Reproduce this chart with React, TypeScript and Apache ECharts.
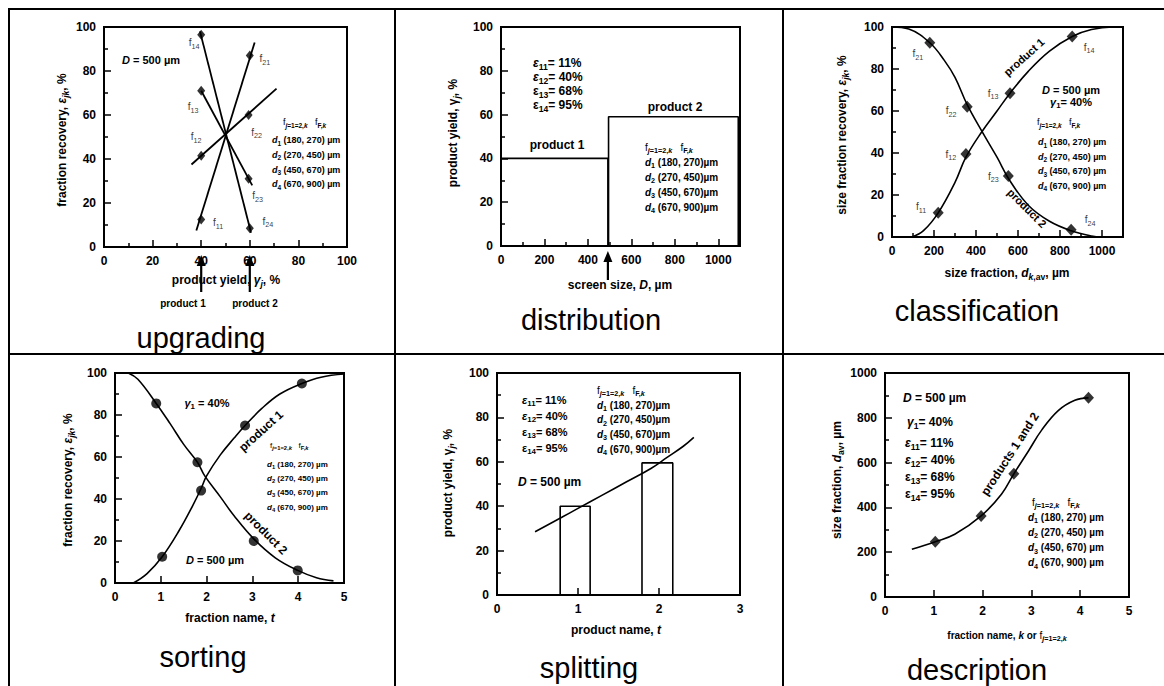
import React, { useEffect, useRef } from "react";
import * as echarts from "echarts";

const FONT = '"Liberation Sans", Arial, Helvetica, sans-serif';

// ---------- Panel 1: upgrading ----------
const upF1Points = [[40, 12.5], [40, 41.5], [40, 71], [40, 96.5]];
const upF2Points = [[60, 87], [59.5, 60], [59.5, 31], [60, 8.5]];
const upF1Names = ["11", "12", "13", "14"];
const upF2Names = ["21", "22", "23", "24"];
const upLines = [
  [[38, 7.5], [62, 93]],
  [[36, 37.5], [71, 72]],
  [[40, 71], [61, 28]],
  [[39.5, 98], [60.5, 6.5]],
];
const upArrowYields = [40, 60];

// ---------- Panel 2: distribution ----------
const distProduct1 = [[0, 40], [492, 40], [492, 0]];
const distProduct2 = [[495, 0], [495, 59], [1092, 59], [1092, 0]];
const distScreen = 492;
const recoveryIdx = ["11", "12", "13", "14"];
const recoveryVals = ["11%", "40%", "68%", "95%"];

// ---------- Panel 3: classification ----------
const clsF1Points = [[220, 11.5], [352, 39.5], [562, 68.5], [858, 95.5]];
const clsF2Points = [[180, 92.5], [358, 62], [554, 29], [853, 3.5]];
const clsCurve1 = [[95, 0], [150, 3], [220, 11.5], [300, 26], [352, 38], [427, 50], [500, 60], [562, 68.5], [650, 79], [750, 88.5], [858, 95.5], [950, 98.8], [1050, 100], [1100, 100]];
const clsCurve2 = [[0, 100], [80, 99], [180, 92.5], [250, 84], [300, 76], [358, 63], [427, 50.5], [500, 38], [560, 27], [650, 15], [750, 7.5], [853, 3], [950, 0.5], [1000, 0]];

// ---------- Panel 4: sorting ----------
const sortP1Points = [[1.03, 12.5], [1.88, 44], [2.84, 75], [4.08, 95]];
const sortP2Points = [[0.9, 85.5], [1.8, 57.5], [3.03, 20], [3.99, 6]];
const sortCurve1 = [[0.4, 0], [0.7, 4.5], [1.03, 12.5], [1.4, 25], [1.7, 37], [1.88, 45], [2.0, 51], [2.3, 61], [2.6, 69], [2.84, 75], [3.2, 83], [3.6, 90], [4.08, 95], [4.5, 98], [5, 99.5]];
const sortCurve2 = [[0.29, 100], [0.5, 97], [0.9, 85.5], [1.2, 76], [1.5, 66], [1.8, 57.5], [1.96, 51], [2.3, 41], [2.6, 32], [3.03, 21], [3.5, 12], [3.99, 6], [4.4, 2.5], [4.77, 1]];

// ---------- Panel 5: splitting ----------
const splitBarEdges = [[0.78, 1.15], [1.79, 2.17]];
const splitYields = [40, 59.5];
const splitCurve = [[0.47, 28.5], [0.8, 35], [1.0, 39], [1.3, 45], [1.6, 51], [1.9, 57], [2.1, 62], [2.3, 67], [2.43, 71]];

// ---------- Panel 6: description ----------
const descPoints = [[1.03, 247], [1.97, 362], [2.64, 550], [4.17, 889]];
const descCurve = [[0.55, 213], [1.03, 247], [1.43, 280], [1.97, 362], [2.39, 460], [2.64, 550], [2.94, 652], [3.21, 745], [3.55, 832], [3.89, 878], [4.17, 889]];

// ---------- legend text ----------
const fracIdx = ["1", "2", "3", "4"];
const fracRanges = ["(180, 270)", "(270, 450)", "(450, 670)", "(670, 900)"];

// label offsets (layout only): label centre relative to marker centre
const upF1Off = [[17, 3], [-5, -19], [-8, 16], [-7, 8]];
const upF2Off = [[15, 3], [8, 17], [9, 17], [18, -7]];
const clsF1Off = [[-17, -6], [-15, 0], [-17, 0], [17, 11]];
const clsF2Off = [[-12, 11], [-16, 4], [-15, 0], [19, -10]];

const richSet = (size: number) => {
  const lh = Math.round(size * 1.4);
  const ss = Math.round(size * 0.72 * 10) / 10;
  const mk = (fs: number, fw: string, st: string, l: number, va: string) => ({
    fontFamily: FONT, color: "#000", fill: "#000", fontSize: fs, fontWeight: fw, fontStyle: st, lineHeight: l, verticalAlign: va,
    textBorderWidth: 0,
  });
  return {
    b: mk(size, "bold", "normal", lh, "middle"),
    bi: mk(size, "bold", "italic", lh, "middle"),
    n: mk(size, "normal", "normal", lh, "middle"),
    s: mk(ss, "bold", "normal", ss, "bottom"),
    si: mk(ss, "bold", "italic", ss, "bottom"),
    sn: mk(ss, "normal", "normal", ss, "bottom"),
  };
};

type Seg = [string, string];
const rt = (segs: Seg[]) => segs.map(([k, s]) => `{${k}|${s}}`).join("");

const T = (x: number, y: number, segs: Seg[], size: number, align = "left", rot = 0) => ({
  type: "text", x, y, rotation: (rot * Math.PI) / 180, silent: true, z: 100,
  style: { text: rt(segs), rich: richSet(size), align, verticalAlign: "middle", fill: "#000", fontFamily: FONT, fontSize: size },
});

const caption = (x: number, y: number, text: string) => ({
  type: "text", x, y, silent: true, z: 100,
  style: { text, fontFamily: FONT, fontSize: 29, fill: "#000", align: "center", verticalAlign: "middle" },
});

const legendHeader = (x: number, y: number, size: number) =>
  T(x, y, [["n", "f"], ["si", "j"], ["s", "=1=2,"], ["si", "k"], ["b", "   "], ["n", "f"], ["s", "F,"], ["si", "k"]], size);

const legendLines = (x: number, y0: number, dy: number, size: number, gap: string) =>
  fracIdx.map((k, i) => T(x, y0 + dy * i, [["bi", "d"], ["s", k], ["b", ` ${fracRanges[i]}${gap}µm`]], size));

const epsLines = (x: number, y0: number, dy: number, size: number) =>
  recoveryIdx.map((k, i) => T(x, y0 + dy * i, [[i < 2 ? "bi" : "b", "ε"], ["s", k], ["b", `= ${recoveryVals[i]}`]], size));

const line = (x1: number, y1: number, x2: number, y2: number) => ({
  type: "line", silent: true, z: 90, shape: { x1, y1, x2, y2 }, style: { stroke: "#000", lineWidth: 2 },
});

const arrow = (x: number, yTop: number, yBot: number) => [
  { type: "line", silent: true, z: 95, shape: { x1: x, y1: yTop + 8, x2: x, y2: yBot }, style: { stroke: "#000", lineWidth: 2.2 } },
  { type: "polygon", silent: true, z: 95, shape: { points: [[x - 4.5, yTop + 11], [x + 4.5, yTop + 11], [x, yTop]] }, style: { fill: "#000" } },
];

const grids = [
  { left: 104, top: 27, width: 243, height: 220 },
  { left: 501, top: 27, width: 239, height: 219 },
  { left: 892, top: 27, width: 231, height: 210 },
  { left: 115, top: 373, width: 229, height: 210 },
  { left: 497, top: 373, width: 243, height: 222 },
  { left: 885, top: 373, width: 244, height: 224 },
].map((g) => ({ ...g, show: true, borderColor: "#000", borderWidth: 2, backgroundColor: "transparent" }));

const axis = (gridIndex: number, min: number, max: number, interval: number, minor: boolean, isX: boolean, hideMax = false) => ({
  type: "value", gridIndex, min, max, interval,
  axisLine: { show: true, onZero: false, lineStyle: { color: "#000", width: 2 } },
  axisTick: { show: true, inside: true, length: 7, lineStyle: { color: "#000", width: 1.5 } },
  minorTick: { show: minor, splitNumber: 2, length: 4, lineStyle: { color: "#000", width: 1.5 } },
  splitLine: { show: false },
  minorSplitLine: { show: false },
  axisLabel: {
    color: "#000", fontFamily: FONT, fontSize: 12, fontWeight: "bold", margin: isX ? 8 : 8, showMaxLabel: !hideMax,
    formatter: (v: number) => String(v),
  },
});

const lineSeries = (i: number, data: number[][], smooth: number | boolean = false, width = 1.6) => ({
  type: "line", xAxisIndex: i, yAxisIndex: i, data, smooth, symbol: "none", showSymbol: false, silent: true,
  lineStyle: { color: "#000", width }, z: 3,
});

const pointSeries = (i: number, pts: number[][], symbol: string, size: number[], names?: string[], offs?: number[][]) => ({
  type: "scatter", xAxisIndex: i, yAxisIndex: i, symbol, symbolSize: size, silent: true, z: 4,
  itemStyle: { color: "#000" },
  label: {
    show: !!names, position: "right", distance: 0, align: "center", verticalAlign: "middle",
    color: "#000", textBorderWidth: 0, fontFamily: FONT, fontSize: 10, rich: richSet(10),
  },
  data: pts.map((p, k) => names
    ? { value: p, label: { offset: [offs![k][0] - size[0] / 2, offs![k][1]], formatter: `{n|f}{sn|${names[k]}}` } }
    : { value: p }),
});

const rectOutline = (e: number[], h: number) => [[e[0], 0], [e[0], h], [e[1], h], [e[1], 0]];

export default function App() {
  const ref = useRef<HTMLDivElement>(null);
  useEffect(() => {
    if (!ref.current) return;
    const chart = echarts.init(ref.current, undefined, { renderer: "svg" });

    const graphics: any[] = [
      // table lines
      line(8, 9, 1164, 9),
      line(9, 8, 9, 686),
      line(8, 354, 1164, 354),
      line(395, 8, 395, 686),
      line(783, 8, 783, 686),
      // panel 1
      T(122, 60, [["bi", "D"], ["b", " = 500 µm"]], 11),
      legendHeader(283, 122, 9),
      ...legendLines(272, 140, 14.8, 9, " "),
      T(62, 140, [["b", "fraction recovery, "], ["bi", "ε"], ["si", "jk"], ["b", ", %"]], 12, "center", 90),
      T(226, 280, [["b", "product yield, "], ["bi", "γ"], ["si", "j"], ["b", ", %"]], 12, "center"),
      T(183, 303, [["b", "product 1"]], 10, "center"),
      T(255, 303, [["b", "product 2"]], 10, "center"),
      caption(201, 338, "upgrading"),
      // panel 2
      ...epsLines(533, 63, 14, 12),
      T(557, 145, [["b", "product 1"]], 12, "center"),
      T(675, 107, [["b", "product 2"]], 12, "center"),
      legendHeader(645, 147, 10),
      ...legendLines(645, 162, 15, 10, ""),
      T(453, 133, [["b", "product yield, "], ["b", "γ"], ["si", "j"], ["b", ", %"]], 12, "center", 90),
      T(620, 285, [["b", "screen size, "], ["bi", "D"], ["b", ", µm"]], 12, "center"),
      caption(591, 320, "distribution"),
      // panel 3
      T(1071, 90, [["bi", "D"], ["b", " = 500 µm"]], 11, "center"),
      T(1071, 102, [["bi", "γ"], ["s", "1"], ["b", "= 40%"]], 11, "center"),
      legendHeader(1037, 122, 9),
      ...legendLines(1038, 142, 14.5, 9, " "),
      T(1024, 57, [["b", "product 1"]], 11, "center", 42),
      T(1027, 208, [["b", "product 2"]], 11, "center", -45),
      T(842, 135, [["b", "size fraction recovery, "], ["bi", "ε"], ["si", "jk"], ["b", ", %"]], 12, "center", 90),
      T(1007, 273, [["b", "size fraction, "], ["bi", "d"], ["si", "k"], ["s", ",av"], ["b", ", µm"]], 12, "center"),
      caption(977, 311, "classification"),
      // panel 4
      T(207, 403, [["bi", "γ"], ["s", "1"], ["b", " = 40%"]], 11, "center"),
      T(215, 560, [["bi", "D"], ["b", " = 500 µm"]], 11, "center"),
      legendHeader(270, 445, 8),
      ...legendLines(267, 464, 14.4, 8, " "),
      T(261, 431, [["b", "product 1"]], 12, "center", 42),
      T(266, 533, [["b", "product 2"]], 12, "center", -45),
      T(68, 480, [["b", "fraction recovery, "], ["bi", "ε"], ["si", "jk"], ["b", ", %"]], 12, "center", 90),
      T(230, 618, [["b", "fraction name, "], ["bi", "t"]], 12, "center"),
      caption(203, 657, "sorting"),
      // panel 5
      ...epsLines(522, 400, 16, 11),
      T(518, 482, [["bi", "D"], ["b", " = 500 µm"]], 12),
      legendHeader(597, 390, 10),
      ...legendLines(597, 405, 14.7, 10, ""),
      T(448, 483, [["b", "product yield, "], ["b", "γ"], ["si", "j"], ["b", ", %"]], 12, "center", 90),
      T(616, 630, [["b", "product name, "], ["bi", "t"]], 12, "center"),
      caption(589, 668, "splitting"),
      // panel 6
      T(903, 398, [["bi", "D"], ["b", " = 500 µm"]], 12),
      T(907, 422, [["bi", "γ"], ["s", "1"], ["b", "= 40%"]], 12),
      ...epsLines(905, 443, 17, 12),
      legendHeader(1032, 502, 10),
      ...legendLines(1028, 517, 15.3, 10, " "),
      T(1010, 454, [["b", "products 1 and 2"]], 12, "center", 57),
      T(837, 480, [["b", "size fraction, "], ["bi", "d"], ["s", "av"], ["b", ", µm"]], 12, "center", 90),
      T(1007, 635, [["b", "fraction name, "], ["bi", "k"], ["b", " or "], ["n", "f"], ["si", "j"], ["s", "=1=2,"], ["si", "k"]], 10, "center"),
      caption(977, 670, "description"),
    ];

    const option: any = {
      animation: false,
      backgroundColor: "#fff",
      textStyle: { fontFamily: FONT },
      grid: grids,
      xAxis: [
        axis(0, 0, 100, 20, true, true),
        axis(1, 0, 1100, 200, true, true, true),
        axis(2, 0, 1100, 200, true, true, true),
        axis(3, 0, 5, 1, false, true),
        axis(4, 0, 3, 1, false, true),
        axis(5, 0, 5, 1, false, true),
      ],
      yAxis: [
        axis(0, 0, 100, 20, true, false),
        axis(1, 0, 100, 20, true, false),
        axis(2, 0, 100, 20, true, false),
        axis(3, 0, 100, 20, true, false),
        axis(4, 0, 100, 20, true, false),
        axis(5, 0, 1000, 200, true, false),
      ],
      series: [
        ...upLines.map((l) => lineSeries(0, l, false, 1.8)),
        pointSeries(0, upF1Points, "diamond", [8, 10], upF1Names, upF1Off),
        pointSeries(0, upF2Points, "diamond", [8, 10], upF2Names, upF2Off),
        lineSeries(1, distProduct1, false, 1.6),
        lineSeries(1, distProduct2, false, 1.6),
        lineSeries(2, clsCurve1, 0.4),
        lineSeries(2, clsCurve2, 0.4),
        pointSeries(2, clsF1Points, "diamond", [11, 12], upF1Names, clsF1Off),
        pointSeries(2, clsF2Points, "diamond", [11, 12], upF2Names, clsF2Off),
        lineSeries(3, sortCurve1, 0.4),
        lineSeries(3, sortCurve2, 0.4),
        pointSeries(3, sortP1Points, "circle", [10, 10]),
        pointSeries(3, sortP2Points, "circle", [10, 10]),
        ...splitBarEdges.map((e, i) => lineSeries(4, rectOutline(e, splitYields[i]), false, 1.6)),
        lineSeries(4, splitCurve, 0.4),
        lineSeries(5, descCurve, 0.4),
        pointSeries(5, descPoints, "diamond", [11, 12]),
      ],
      graphic: graphics,
    };
    chart.setOption(option);

    const arrows: any[] = [];
    upArrowYields.forEach((v) => {
      const p = chart.convertToPixel({ gridIndex: 0 }, [v, 0]) as number[];
      arrows.push(...arrow(p[0], 255, 292));
    });
    const pd = chart.convertToPixel({ gridIndex: 1 }, [distScreen, 0]) as number[];
    arrows.push(...arrow(pd[0], 251, 280));
    chart.setOption({ graphic: graphics.concat(arrows) });

    return () => chart.dispose();
  }, []);
  return <div ref={ref} style={{ position: "absolute", left: 0, top: 0, width: 1164, height: 686 }} />;
}
